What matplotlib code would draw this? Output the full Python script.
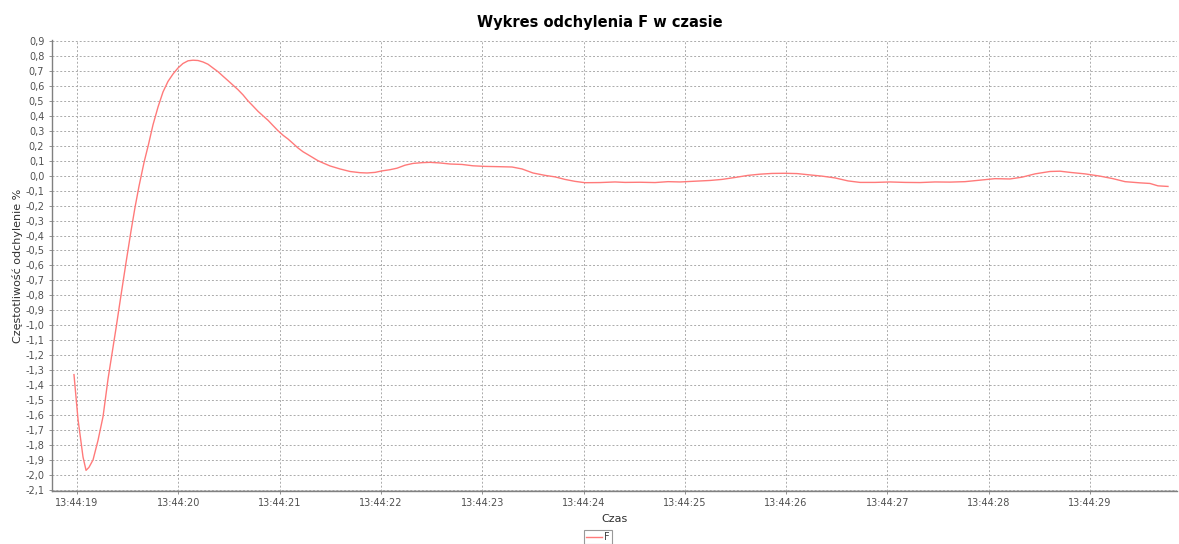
import matplotlib
matplotlib.use("Agg")
import matplotlib.pyplot as plt
from matplotlib.ticker import FixedLocator, FuncFormatter

# time offset in seconds from 13:44:00
t_sec = [18.970, 19.010, 19.059, 19.089, 19.118, 19.158, 19.207, 19.257, 19.306, 19.336,
         19.385, 19.434, 19.484, 19.533, 19.573, 19.612, 19.662, 19.706, 19.750, 19.800,
         19.849, 19.898, 19.948, 19.997, 20.046, 20.096, 20.145, 20.194, 20.244, 20.293,
         20.342, 20.392, 20.441, 20.491, 20.540, 20.589, 20.639, 20.688, 20.738, 20.787,
         20.836, 20.886, 20.935, 20.985, 21.034, 21.083, 21.133, 21.182, 21.231, 21.281,
         21.330, 21.379, 21.429, 21.498, 21.596, 21.695, 21.794, 21.863, 21.942, 22.011,
         22.090, 22.159, 22.238, 22.317, 22.406, 22.485, 22.584, 22.682, 22.801, 22.909,
         23.028, 23.176, 23.294, 23.393, 23.501, 23.620, 23.719, 23.817, 23.916, 24.015,
         24.163, 24.311, 24.410, 24.558, 24.706, 24.834, 24.953, 25.101, 25.249, 25.367,
         25.496, 25.624, 25.742, 25.861, 25.989, 26.108, 26.236, 26.354, 26.483, 26.611,
         26.730, 26.878, 27.026, 27.174, 27.322, 27.470, 27.618, 27.766, 27.914, 28.062,
         28.210, 28.329, 28.457, 28.605, 28.704, 28.803, 28.951, 29.099, 29.227, 29.346,
         29.494, 29.592, 29.671, 29.770]
f_dev = [-1.33, -1.63, -1.88, -1.97, -1.95, -1.90, -1.77, -1.61, -1.36, -1.23,
         -1.02, -0.80, -0.58, -0.37, -0.21, -0.07, 0.09, 0.21, 0.34, 0.46,
         0.56, 0.63, 0.68, 0.72, 0.75, 0.768, 0.772, 0.77, 0.76, 0.745,
         0.72, 0.695, 0.665, 0.635, 0.605, 0.575, 0.54, 0.50, 0.465, 0.43,
         0.40, 0.37, 0.335, 0.30, 0.27, 0.245, 0.215, 0.185, 0.16, 0.14,
         0.12, 0.10, 0.085, 0.065, 0.045, 0.028, 0.02, 0.018, 0.022, 0.032,
         0.04, 0.05, 0.07, 0.082, 0.087, 0.089, 0.085, 0.078, 0.075, 0.066,
         0.062, 0.06, 0.058, 0.045, 0.018, 0.002, -0.008, -0.025, -0.038, -0.047,
         -0.046, -0.042, -0.045, -0.044, -0.046, -0.04, -0.042, -0.037, -0.032, -0.025,
         -0.012, 0.002, 0.01, 0.015, 0.016, 0.014, 0.005, -0.003, -0.015, -0.035,
         -0.045, -0.045, -0.042, -0.045, -0.046, -0.042, -0.043, -0.04, -0.03, -0.02,
         -0.022, -0.01, 0.012, 0.028, 0.03, 0.022, 0.012, -0.003, -0.02, -0.04,
         -0.048, -0.052, -0.068, -0.072]

x_ticks = [19, 20, 21, 22, 23, 24, 25, 26, 27, 28, 29]
x_tick_labels = ["13:44:19", "13:44:20", "13:44:21", "13:44:22", "13:44:23", "13:44:24",
                 "13:44:25", "13:44:26", "13:44:27", "13:44:28", "13:44:29"]
y_ticks = [round(-2.1 + 0.1 * i, 1) for i in range(31)]

title = "Wykres odchylenia F w czasie"
x_label = "Czas"
y_label = "Częstotliwość odchylenie %"
series_name = "F"

fig = plt.figure(figsize=(11.79, 5.44), dpi=100)
ax = fig.add_axes([52 / 1179, 1 - 491 / 544, (1177 - 52) / 1179, (491 - 40) / 544])

ax.plot(t_sec, f_dev, color="#ff7a7a", linewidth=1.0, label=series_name)

ax.set_xlim(18.753, 29.859)
ax.set_ylim(-2.108, 0.907)

ax.xaxis.set_major_locator(FixedLocator(x_ticks))
ax.set_xticklabels(x_tick_labels)
ax.yaxis.set_major_locator(FixedLocator(y_ticks))
ax.yaxis.set_major_formatter(FuncFormatter(lambda v, p: f"{v:.1f}".replace(".", ",").replace("-0,0", "0,0")))

ax.grid(True, color="#ababab", linestyle=(0, (2, 2)), linewidth=0.7)
ax.set_axisbelow(True)

for s in ["top", "right"]:
    ax.spines[s].set_visible(False)
ax.spines["left"].set_color("#808080")
ax.spines["bottom"].set_color("#808080")
ax.spines["left"].set_linewidth(1.0)
ax.spines["bottom"].set_linewidth(1.0)
ax.axhline(-2.108, color="#d8d8d8", linewidth=2.0, zorder=0)

ax.tick_params(axis="both", labelsize=7, colors="#505050", length=2, width=0.6, direction="out")
ax.tick_params(axis="both", color="#808080")
ax.tick_params(axis="x", pad=3)

ax.set_xlabel(x_label, fontsize=8, color="#303030", labelpad=4)
ax.set_ylabel(y_label, fontsize=8, color="#303030", labelpad=2)

fig.text(600 / 1179, 1 - 22 / 544, title, ha="center", va="center",
         fontsize=10.5, fontweight="bold", color="black")

leg = ax.legend(loc="center", bbox_to_anchor=(598 / 1179, 1 - 537 / 544), bbox_transform=fig.transFigure,
                fontsize=7, frameon=True, fancybox=False, handlelength=1.6, handletextpad=0.3,
                borderpad=0.25, borderaxespad=0)
leg.get_frame().set_edgecolor("#808080")
leg.get_frame().set_linewidth(0.8)
for txt in leg.get_texts():
    txt.set_color("#404040")

fig.savefig("out.png", dpi=100)
